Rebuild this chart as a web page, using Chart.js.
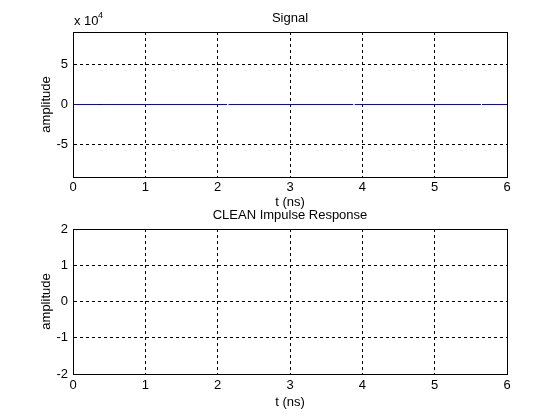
<!DOCTYPE html>
<html>
<head>
<meta charset="utf-8">
<script src="https://cdn.jsdelivr.net/npm/chart.js@4"></script>
<style>
  body { margin: 0; background: #fff; }
  #wrap { position: relative; width: 560px; height: 420px; }
  canvas { position: absolute; left: 0; }
</style>
</head>
<body>
<div id="wrap">
  <canvas id="sig" width="560" height="210" style="top:0"></canvas>
  <canvas id="imp" width="560" height="220" style="top:200px"></canvas>
</div>
<script>
// time axis (ns)
const timeTicks = [0, 1, 2, 3, 4, 5, 6]

// signal trace: flat at zero, with the small breaks seen in the plot
const signalT = [0, 0.365, 0.373, 0.38, 2.13, 2.14, 2.15, 3.875, 3.885, 3.895, 5.64, 5.65, 5.66, 6]
const signalY = [0, 0, null, 0, 0, null, 0, 0, null, 0, 0, null, 0, 0]
const signalTicks = [-50000, 0, 50000]
const signalRange = [-91000, 91000]

// impulse response: nothing plotted
const impulseT = []
const impulseY = []
const impulseTicks = [-2, -1, 0, 1, 2]
const impulseRange = [-2, 2]

const FONT = { family: '"Liberation Sans", Arial, sans-serif', size: 13 }
Chart.defaults.font = FONT
Chart.defaults.color = '#000'

// matlab style: closed box, title over the axes, exponent label
const boxPlugin = {
  id: 'box',
  afterDraw(chart, args, opts) {
    const { ctx, chartArea: a } = chart
    ctx.save()
    ctx.strokeStyle = '#000'
    ctx.lineWidth = 1
    ctx.strokeRect(Math.round(a.left) + 0.5, Math.round(a.top) + 0.5,
      Math.round(a.right - a.left), Math.round(a.bottom - a.top))
    ctx.fillStyle = '#000'
    ctx.font = '13px ' + FONT.family
    ctx.textAlign = 'center'
    ctx.textBaseline = 'middle'
    ctx.fillText(opts.title, (a.left + a.right) / 2, opts.titleY)
    if (opts.exponent) {
      ctx.textAlign = 'left'
      ctx.textBaseline = 'alphabetic'
      ctx.fillText('x 10', 74, 25)
      ctx.font = '9px ' + FONT.family
      ctx.fillText(opts.exponent, 98, 18)
    }
    ctx.restore()
  },
}

function makePlot(id, title, xs, ys, yTicks, yRange, opts) {
  return new Chart(document.getElementById(id), {
    type: 'line',
    data: {
      datasets: [{
        data: xs.map((t, i) => ({ x: t, y: ys[i] })),
        borderColor: '#0000ff',
        borderWidth: 1,
        pointRadius: 0,
        spanGaps: false,
      }],
    },
    options: {
      responsive: false,
      animation: false,
      events: [],
      layout: { padding: { top: opts.top, right: 53, left: 0, bottom: 0 } },
      plugins: {
        legend: { display: false },
        tooltip: { enabled: false },
        box: { title, titleY: opts.titleY, exponent: opts.exponent },
      },
      scales: {
        x: {
          type: 'linear',
          min: 0,
          max: 6,
          afterBuildTicks: s => { s.ticks = timeTicks.map(v => ({ value: v })) },
          afterFit: s => { s.height = opts.xHeight },
          grid: { color: '#000', drawTicks: false },
          border: { color: '#000', dash: [3, 3] },
          ticks: { padding: opts.xTickPad, maxRotation: 0 },
          title: { display: true, text: 't (ns)', padding: { top: 0, bottom: opts.xTitlePad } },
        },
        y: {
          min: yRange[0],
          max: yRange[1],
          afterBuildTicks: s => { s.ticks = yTicks.map(v => ({ value: v })) },
          afterFit: s => { s.width = 73 },
          grid: { color: '#000', drawTicks: false },
          border: { color: '#000', dash: [3, 3] },
          ticks: { padding: 5, callback: v => String(v / opts.yScale) },
          title: { display: true, text: 'amplitude', padding: { top: 39, bottom: 0 } },
        },
      },
    },
    plugins: [boxPlugin],
  })
}

makePlot('sig', 'Signal', signalT, signalY, signalTicks, signalRange, {
  top: 32, titleY: 18, xHeight: 33, xTickPad: 3, xTitlePad: 0,
  yScale: 10000, exponent: '4',
})

makePlot('imp', 'CLEAN Impulse Response', impulseT, impulseY, impulseTicks, impulseRange, {
  top: 29, titleY: 15, xHeight: 46, xTickPad: 4, xTitlePad: 10,
  yScale: 1, exponent: null,
})
</script>
</body>
</html>
